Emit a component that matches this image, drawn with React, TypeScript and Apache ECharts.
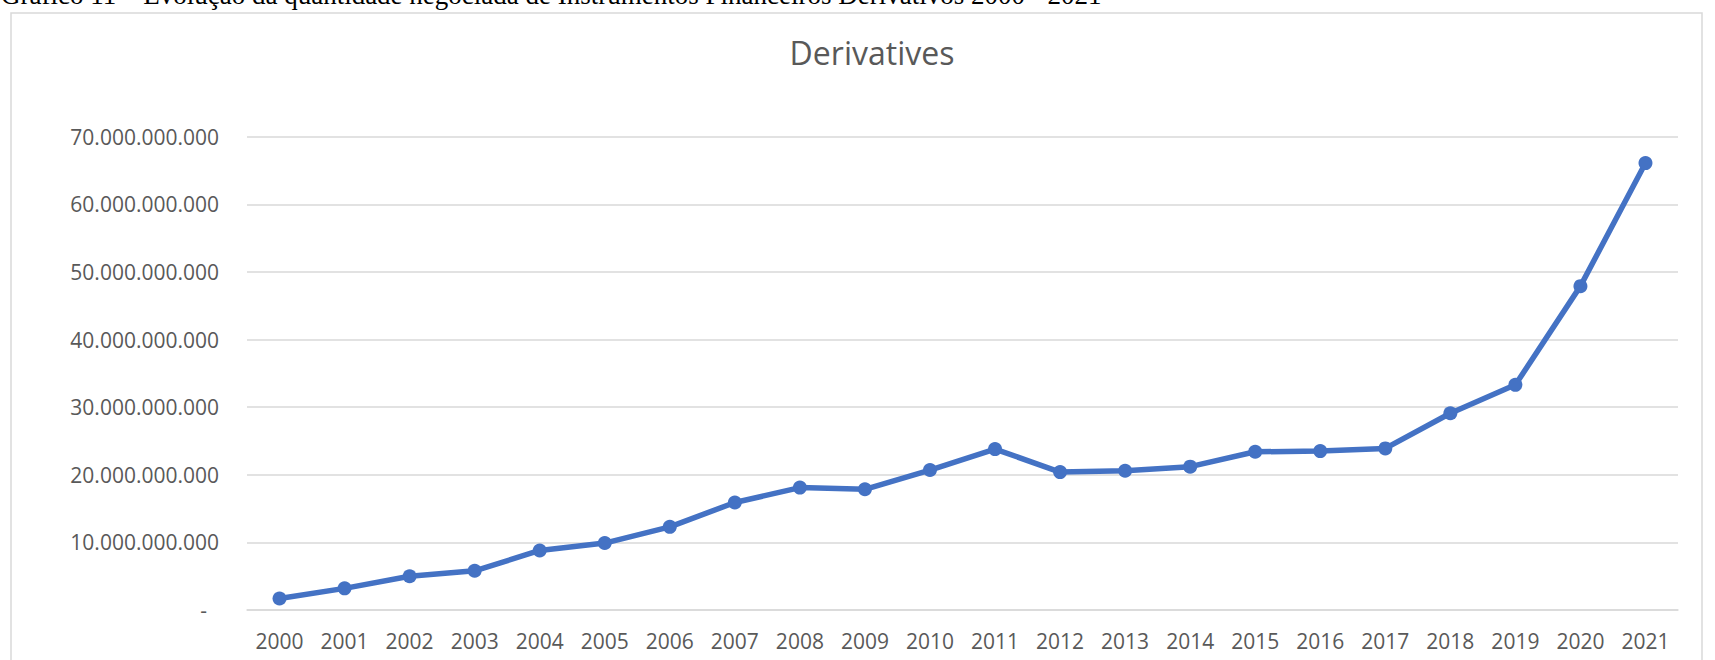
import React, { useEffect, useRef } from "react";
import * as echarts from "echarts";

const headerText =
  "Gráfico 11 – Evolução da quantidade negociada de Instrumentos Financeiros Derivativos 2000 - 2021";
const chartTitle = "Derivatives";
const years = [
  "2000", "2001", "2002", "2003", "2004", "2005", "2006", "2007", "2008", "2009", "2010",
  "2011", "2012", "2013", "2014", "2015", "2016", "2017", "2018", "2019", "2020", "2021",
];
const derivativesValues = [
  1_700_000_000, 3_200_000_000, 5_000_000_000, 5_800_000_000, 8_800_000_000, 9_900_000_000,
  12_300_000_000, 15_900_000_000, 18_100_000_000, 17_850_000_000, 20_700_000_000,
  23_800_000_000, 20_400_000_000, 20_600_000_000, 21_200_000_000, 23_400_000_000,
  23_500_000_000, 23_900_000_000, 29_100_000_000, 33_300_000_000, 47_900_000_000,
  66_100_000_000,
];
const yMin = 0;
const yMax = 70_000_000_000;
const yInterval = 10_000_000_000;

const fmt = (v: number) =>
  v === 0 ? "{d|-}" : String(Math.round(v)).replace(/\B(?=(\d{3})+(?!\d))/g, ".");

export default function App() {
  const ref = useRef<HTMLDivElement>(null);
  useEffect(() => {
    document.body.style.margin = "0";
    if (!ref.current) return;
    const chart = echarts.init(ref.current, undefined, { renderer: "svg" });
    const font = "'Open Sans', sans-serif";
    chart.setOption({
      animation: false,
      backgroundColor: "#ffffff",
      title: {
        text: chartTitle,
        left: 872,
        top: 36,
        padding: 0,
        textAlign: "center",
        textStyle: { fontSize: 32, fontWeight: "normal", color: "#595959", fontFamily: font },
      },
      graphic: [
        {
          type: "rect",
          shape: { x: 11, y: 13, width: 1691, height: 700 },
          style: { fill: "none", stroke: "#D9D9D9", lineWidth: 1.5 },
          silent: true,
        },
        {
          type: "text",
          x: 1,
          y: -5,
          style: {
            text: headerText,
            font: "27px 'Liberation Serif', 'Times New Roman', serif",
            fill: "#000000",
            textVerticalAlign: "middle",
            verticalAlign: "middle",
          },
          silent: true,
        },
      ],
      grid: { left: 247, right: 37, top: 136.7, bottom: 50, containLabel: false },
      xAxis: {
        type: "category",
        data: years,
        boundaryGap: true,
        axisLine: { show: true, lineStyle: { color: "#D9D9D9", width: 1.5 } },
        axisTick: { show: false },
        axisLabel: { fontSize: 21, color: "#595959", fontFamily: font, margin: 20, interval: 0 },
      },
      yAxis: {
        type: "value",
        min: yMin,
        max: yMax,
        interval: yInterval,
        axisLine: { show: false },
        axisTick: { show: false },
        splitLine: { show: true, lineStyle: { color: "#D9D9D9", width: 1.5 } },
        axisLabel: {
          fontSize: 21,
          color: "#595959",
          fontFamily: font,
          margin: 28,
          formatter: fmt,
          rich: { d: { fontSize: 21, color: "#595959", fontFamily: font, padding: [0, 12, 0, 0] } },
        },
      },
      series: [
        {
          type: "line",
          data: derivativesValues,
          symbol: "circle",
          symbolSize: 14,
          lineStyle: { color: "#4472C4", width: 5.5 },
          itemStyle: { color: "#4472C4" },
        },
      ],
    });
    return () => chart.dispose();
  }, []);
  return <div ref={ref} style={{ width: 1715, height: 660 }} />;
}
